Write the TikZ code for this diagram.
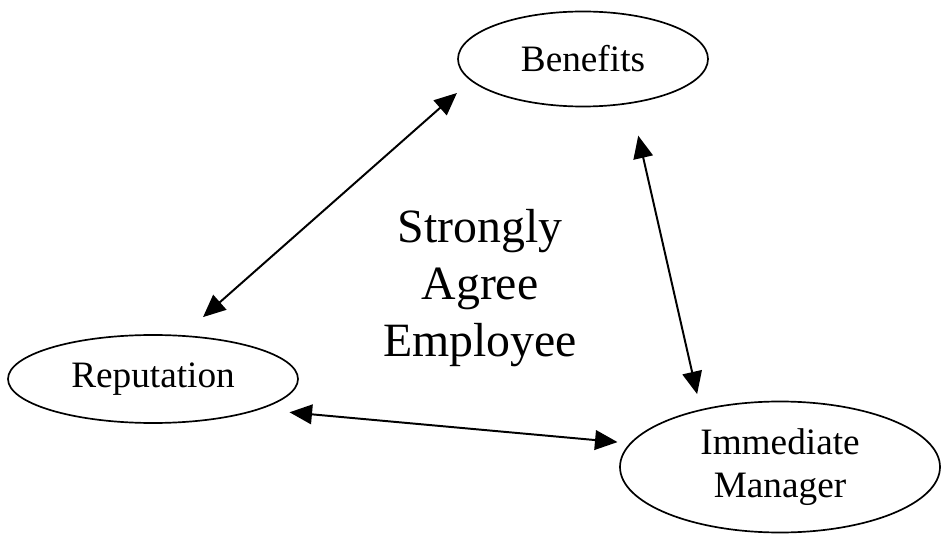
\documentclass[tikz,border=0pt]{standalone}
\usepackage{fontspec}
\setmainfont{Liberation Serif}
\usetikzlibrary{arrows.meta,shapes.geometric}

\begin{document}
\begin{tikzpicture}[
    oval/.style={ellipse, draw, line width=1.2pt, align=center, inner sep=0pt,
        font=\fontsize{26.5}{30.6}\selectfont},
    arrow/.style={{Triangle[length=16pt,width=14pt]}-{Triangle[length=16pt,width=14pt]}, line width=1.4pt}
]
    \useasboundingbox (0,0) rectangle (23.55,-13.575);

    \node[oval, minimum width=6.25cm, minimum height=2.375cm] (benefits) at (14.575,-1.475) {Benefits};
    \node[oval, minimum width=7.25cm, minimum height=2.2cm] (reputation) at (3.825,-9.475) {Reputation};
    \node[oval, minimum width=8cm, minimum height=3.275cm] (manager) at (19.5,-11.675) {Immediate\\Manager};

    \node[align=center, font=\fontsize{34}{40.5}\selectfont] (group) at (12.0,-7.2) {Strongly\\Agree\\Employee};

    \draw[arrow, shorten <=0.46cm, shorten >=0.68cm] (benefits.191) -- (reputation.56);
    \draw[arrow, shorten <=0.82cm, shorten >=0.39cm] (benefits.317) -- (manager.144);
    \draw[arrow, shorten <=0.75cm, shorten >=0.31cm] (reputation.344) -- (manager.171);
\end{tikzpicture}
\end{document}
